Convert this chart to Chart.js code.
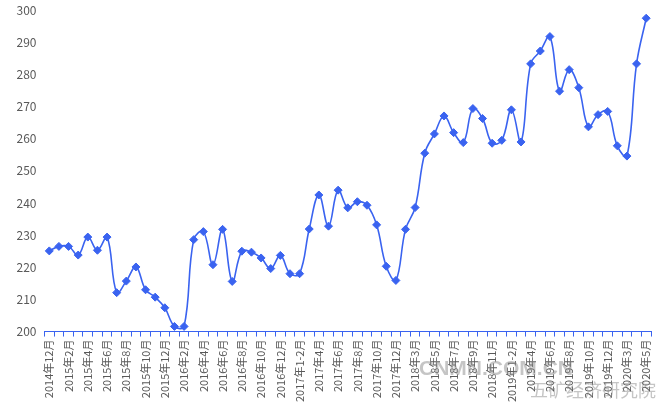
<!DOCTYPE html>
<html>
<head>
<meta charset="utf-8">
<script src="https://cdn.jsdelivr.net/npm/chart.js@4"></script>
<style>
html,body{margin:0;padding:0;background:#fff;overflow:hidden;}
#wrap{position:relative;width:666px;height:413px;overflow:hidden;}
#c{position:absolute;left:0;top:-5px;}
.wm{position:absolute;color:rgba(140,140,140,0.5);white-space:nowrap;pointer-events:none;}
</style>
</head>
<body>
<div id="wrap">
<canvas id="c" width="666" height="418"></canvas>
<div class="wm" style="left:419px;top:356px;font:bold 21px 'Liberation Sans',Arial,sans-serif;">CNMN.COM.CN</div>
<div class="wm" style="left:530px;top:376px;font:18px 'Noto Sans CJK SC',sans-serif;">五矿经济研究院</div>
</div>
<script>
const categories = [
 "2014年12月","2015年1月","2015年2月","2015年3月","2015年4月","2015年5月","2015年6月","2015年7月","2015年8月","2015年9月","2015年10月","2015年11月","2015年12月",
 "2016年1月","2016年2月","2016年3月","2016年4月","2016年5月","2016年6月","2016年7月","2016年8月","2016年9月","2016年10月","2016年11月","2016年12月",
 "2017年1月","2017年1-2月","2017年3月","2017年4月","2017年5月","2017年6月","2017年7月","2017年8月","2017年9月","2017年10月","2017年11月","2017年12月",
 "2018年1-2月","2018年3月","2018年4月","2018年5月","2018年6月","2018年7月","2018年8月","2018年9月","2018年10月","2018年11月","2018年12月",
 "2019年1-2月","2019年3月","2019年4月","2019年5月","2019年6月","2019年7月","2019年8月","2019年9月","2019年10月","2019年11月","2019年12月",
 "2020年1-2月","2020年3月","2020年4月","2020年5月"
];
const values = [
 225.1,226.5,226.5,223.8,229.4,225.3,229.4,212.1,215.7,220.1,213.0,210.7,207.4,
 201.6,201.6,228.6,231.1,220.8,231.8,215.6,225.0,224.7,222.9,219.6,223.7,
 218.0,218.0,231.9,242.5,232.8,244.0,238.5,240.4,239.3,233.2,220.3,215.9,
 231.8,238.6,255.5,261.5,267.1,261.9,258.8,269.4,266.3,258.6,259.5,
 269.0,259.0,283.3,287.3,291.8,274.8,281.5,275.9,263.7,267.5,268.5,
 257.8,254.6,283.3,297.5
];
const yMin = 200, yMax = 300, yStep = 10;
const blue = 'rgb(58,99,240)';

new Chart(document.getElementById('c'), {
  type: 'line',
  data: {
    labels: categories,
    datasets: [{
      data: values,
      borderColor: blue,
      backgroundColor: blue,
      borderWidth: 1.6,
      tension: 0.4,
      pointStyle: 'rectRot',
      pointRadius: 4,
      pointBorderWidth: 1,
      pointBorderColor: blue,
      pointBackgroundColor: blue,
      fill: false
    }]
  },
  options: {
    responsive: false,
    animation: false,
    devicePixelRatio: 1,
    layout: { padding: { left: 8.5, right: 15, top: -1, bottom: 8 } },
    plugins: { legend: { display: false }, tooltip: { enabled: false } },
    scales: {
      x: {
        type: 'category',
        offset: true,
        grid: { display: true, drawOnChartArea: false, drawTicks: true, tickLength: 5, offset: true, color: blue },
        border: { display: true, color: blue, width: 1 },
        ticks: {
          autoSkip: false,
          maxRotation: 90,
          minRotation: 90,
          padding: 3,
          color: '#595959',
          font: { family: "'Noto Sans CJK SC', sans-serif", size: 11 },
          callback: function(v, i) { return i % 2 === 0 ? this.getLabelForValue(v) : ''; }
        }
      },
      y: {
        min: yMin, max: yMax,
        grid: { display: false, drawTicks: false },
        border: { display: false },
        ticks: {
          stepSize: yStep,
          padding: 8,
          color: '#595959',
          font: { family: "'Noto Sans CJK SC', sans-serif", size: 12 }
        }
      }
    }
  }
});
</script>
</body>
</html>
